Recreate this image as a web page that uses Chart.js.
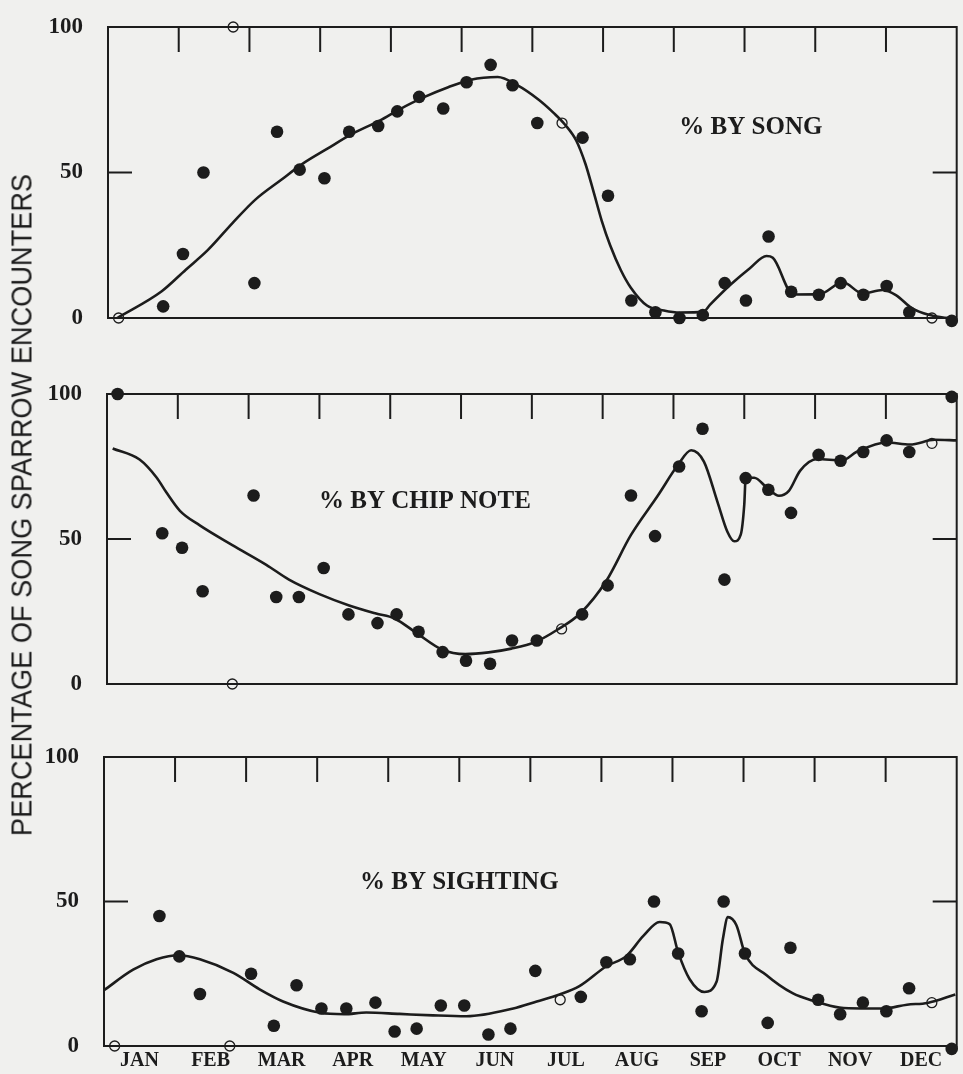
<!DOCTYPE html>
<html>
<head>
<meta charset="utf-8">
<script src="https://cdn.jsdelivr.net/npm/chart.js@4.4.1/dist/chart.umd.min.js"></script>
<style>
  body { margin: 0; background: #f0f0ee; }
  #wrap { position: relative; width: 963px; height: 1074px; overflow: hidden; }
  canvas { position: absolute; left: 0; }
  #ytitle {
    position: absolute; left: 22px; top: 505px; white-space: nowrap;
    font-family: "Liberation Sans", Arial, sans-serif;
    font-size: 29px; color: #1c1c1c; line-height: 1;
  }
</style>
</head>
<body>
<div id="wrap">
  <canvas id="song" width="963" height="340" style="top:0px"></canvas>
  <canvas id="chip" width="963" height="360" style="top:340px"></canvas>
  <canvas id="sight" width="963" height="374" style="top:700px"></canvas>
  <div id="ytitle">PERCENTAGE OF SONG SPARROW ENCOUNTERS</div>
</div>
<script>
const ink = "#1c1c1c";

///////////////////////////////////////// data
const months = ["JAN", "FEB", "MAR", "APR", "MAY", "JUN", "JUL", "AUG", "SEP", "OCT", "NOV", "DEC"];
const monthMid = [0.5, 1.5, 2.5, 3.5, 4.5, 5.5, 6.5, 7.5, 8.5, 9.5, 10.5, 11.5];
const monthEdge = [1, 2, 3, 4, 5, 6, 7, 8, 9, 10, 11];
const yTicks = [0, 50, 100];

// x position (in months) of every 10-day period
const periodX = [0.15, 0.78, 1.06, 1.35, 1.77, 2.07, 2.39, 2.71, 3.06, 3.41, 3.82, 4.09,
  4.40, 4.74, 5.07, 5.41, 5.72, 6.07, 6.42, 6.71, 7.07, 7.40, 7.74, 8.08,
  8.41, 8.72, 9.02, 9.34, 9.66, 10.05, 10.36, 10.68, 11.01, 11.33, 11.65, 11.93];

const songPct = [0, 4, 22, 50, 100, 12, 64, 51, 48, 64, 66, 71,
  76, 72, 81, 87, 80, 67, 67, 62, 42, 6, 2, 0,
  1, 12, 6, 28, 9, 8, 12, 8, 11, 2, 0, -1];
const songOpen = [0, 4, 18, 34];

const chipPct = [100, 52, 47, 32, 0, 65, 30, 30, 40, 24, 21, 24,
  18, 11, 8, 7, 15, 15, 19, 24, 34, 65, 51, 75,
  88, 36, 71, 67, 59, 79, 77, 80, 84, 80, 83, 99];
const chipOpen = [4, 18, 34];

const sightPct = [0, 45, 31, 18, 0, 25, 7, 21, 13, 13, 15, 5,
  6, 14, 14, 4, 6, 26, 16, 17, 29, 30, 50, 32,
  12, 50, 32, 8, 34, 16, 11, 15, 12, 20, 15, -1];
const sightOpen = [0, 4, 18, 34];

// fitted curves
const songCurveX = [0.13, 0.76, 1.10, 1.41, 1.76, 2.08, 2.45, 2.74, 3.09, 3.47, 3.84, 4.13, 4.46, 4.81,
  5.13, 5.51, 5.78, 6.09, 6.30, 6.46, 6.62, 6.75, 6.87, 6.98, 7.10, 7.25, 7.39, 7.62, 7.86, 8.09,
  8.42, 8.51, 8.80, 9.08, 9.31, 9.40, 9.69, 10.06, 10.39, 10.67, 10.95, 11.14, 11.37, 11.61, 11.89, 12.0];
const songCurveY = [0, 9.2, 16.6, 23.3, 32.6, 40.6, 47.5, 52.8, 58, 63.5, 67.8, 71.8, 75.8, 79.3,
  81.9, 82.8, 80.1, 75, 70.5, 66.5, 61, 53, 43, 33.5, 25, 16.5, 10.5, 4.3, 2.6, 1.9,
  2.2, 4.5, 11.4, 17.2, 21.3, 20.7, 8.1, 8.2, 12.3, 8.4, 9.6, 7.9, 3.3, 1.1, 0, 0];

const chipCurveX = [0.08, 0.46, 0.70, 0.84, 1.03, 1.31, 1.77, 2.25, 2.57, 3.00, 3.42, 3.80, 4.06, 4.37,
  4.73, 5.06, 5.39, 5.71, 6.05, 6.36, 6.69, 7.05, 7.40, 7.78, 8.06, 8.25, 8.43, 8.62, 8.76,
  8.86, 8.95, 9.00, 9.02, 9.14, 9.32, 9.49, 9.63, 9.79, 10.03, 10.38, 10.59, 11.01, 11.34, 11.69, 12.0];
const chipCurveY = [81.2, 77.4, 71.2, 66, 59.7, 54.7, 47.9, 41.1, 36, 31, 27.1, 24.3, 22.6, 17.6,
  11.9, 10.3, 10.9, 12.2, 14.5, 18.7, 24.5, 35.5, 51.4, 65, 75.4, 80.6, 76.7, 62.9, 52.6,
  49.2, 51.5, 61.9, 71.1, 71.1, 67.7, 64.9, 66.6, 73.6, 77.6, 77.1, 80.1, 83.3, 82.6, 84.2, 84];

const sightCurveX = [0, 0.41, 0.74, 1.05, 1.35, 1.82, 2.19, 2.52, 3.04, 3.38, 3.69, 4.16, 4.63, 5.10,
  5.76, 6.09, 6.41, 6.69, 7.07, 7.35, 7.59, 7.82, 7.96, 8.08, 8.24, 8.45, 8.62, 8.71, 8.78,
  8.90, 9.02, 9.32, 9.69, 10.0, 10.35, 10.66, 10.97, 11.30, 11.59, 11.98];
const sightCurveY = [19.3, 26.4, 30, 31.4, 30, 25.3, 19.6, 15.4, 11.5, 11.0, 11.6, 11.1, 10.6, 10.3,
  13, 15.4, 17.8, 20.7, 27.6, 31.1, 38.1, 42.9, 42.2, 32.4, 23.2, 18.7, 22.2, 37.1, 44.6,
  41.8, 32, 24.6, 18.3, 15.5, 13.3, 13, 13, 14.3, 14.9, 17.8];

///////////////////////////////////////// frame, inner ticks and panel label
const framePlugin = {
  id: "frame",
  beforeDatasetsDraw(chart, args, opts) {
    const ctx = chart.ctx;
    const a = chart.chartArea;
    const x = chart.scales.x;
    const y = chart.scales.y;
    ctx.save();
    ctx.strokeStyle = ink;
    ctx.lineWidth = 2;
    ctx.strokeRect(a.left, a.top, a.right - a.left, a.bottom - a.top);
    ctx.beginPath();
    monthEdge.forEach(function (m) {
      const px = x.getPixelForValue(m);
      ctx.moveTo(px, a.top);
      ctx.lineTo(px, a.top + 25);
    });
    const py = y.getPixelForValue(50);
    ctx.moveTo(a.left, py);
    ctx.lineTo(a.left + 24, py);
    ctx.moveTo(a.right, py);
    ctx.lineTo(a.right - 24, py);
    ctx.stroke();
    ctx.fillStyle = ink;
    ctx.font = 'bold 25px "Liberation Serif"';
    ctx.textAlign = "center";
    ctx.textBaseline = "middle";
    ctx.fillText(opts.label, x.getPixelForValue(opts.lx), y.getPixelForValue(opts.ly));
    ctx.restore();
  },
};

function makePanel(id, pct, open, cx, cy, box, label, showMonths) {
  var pts = periodX.map(function (v, i) { return { x: v, y: pct[i] }; });
  var curve = cx.map(function (v, i) { return { x: v, y: cy[i] }; });
  var isOpen = function (c) { return open.indexOf(c.dataIndex) >= 0; };

  var xScale = {
    type: "linear", min: 0, max: 12,
    display: showMonths,
    grid: { display: false, drawTicks: false },
    border: { display: false },
    afterBuildTicks: function (s) { s.ticks = monthMid.map(function (v) { return { value: v }; }); },
    afterFit: function (s) {
      s.paddingLeft = 0;
      s.paddingRight = 0;
      if (showMonths) s.height = 28;
    },
    ticks: {
      autoSkip: false, maxRotation: 0, padding: 3, color: ink,
      font: { family: "Liberation Serif", size: 20, weight: "bold" },
      callback: function (v, i) { return months[i]; },
    },
  };

  return new Chart(document.getElementById(id), {
    type: "scatter",
    data: {
      datasets: [
        {
          data: curve,
          showLine: true,
          borderColor: ink,
          borderWidth: 2.6,
          pointRadius: 0,
          cubicInterpolationMode: "monotone",
          clip: false,
        },
        {
          data: pts,
          showLine: false,
          pointRadius: function (c) { return isOpen(c) ? 5 : 6.3; },
          pointBorderWidth: function (c) { return isOpen(c) ? 1.3 : 0; },
          pointBorderColor: ink,
          pointBackgroundColor: function (c) { return isOpen(c) ? "rgba(0,0,0,0)" : ink; },
          clip: false,
        },
      ],
    },
    options: {
      responsive: false,
      animation: false,
      devicePixelRatio: 1,
      layout: { padding: { top: box.top, bottom: box.bottom, left: 0, right: box.right } },
      plugins: {
        legend: { display: false },
        tooltip: { enabled: false },
        frame: { label: label, lx: box.lx, ly: box.ly },
      },
      scales: {
        x: xScale,
        y: {
          min: 0, max: 100,
          afterBuildTicks: function (s) { s.ticks = yTicks.map(function (v) { return { value: v }; }); },
          afterFit: function (s) {
            s.width = box.left;
            s.paddingTop = 0;
            s.paddingBottom = 0;
          },
          grid: { display: false, drawTicks: false },
          border: { display: false },
          ticks: {
            padding: 25, color: ink,
            font: { family: "Liberation Serif", size: 23, weight: "bold" },
          },
        },
      },
    },
    plugins: [framePlugin],
  });
}

makePanel("song", songPct, songOpen, songCurveX, songCurveY,
  { top: 27, bottom: 22, left: 108, right: 3, lx: 9.09, ly: 65.6 }, "% BY SONG", false);
makePanel("chip", chipPct, chipOpen, chipCurveX, chipCurveY,
  { top: 54, bottom: 16, left: 107, right: 3, lx: 4.49, ly: 62.8 }, "% BY CHIP NOTE", false);
makePanel("sight", sightPct, sightOpen, sightCurveX, sightCurveY,
  { top: 57, bottom: 0, left: 104, right: 5, lx: 5.0, ly: 56.7 }, "% BY SIGHTING", true);

///////////////////////////////////////// rotated y title, squeezed to its length in the figure
var t = document.getElementById("ytitle");
var w = t.offsetWidth;
var k = 662 / w;
t.style.transform = "translate(-50%, -50%) rotate(-90deg) scaleX(" + k + ")";
</script>
</body>
</html>
